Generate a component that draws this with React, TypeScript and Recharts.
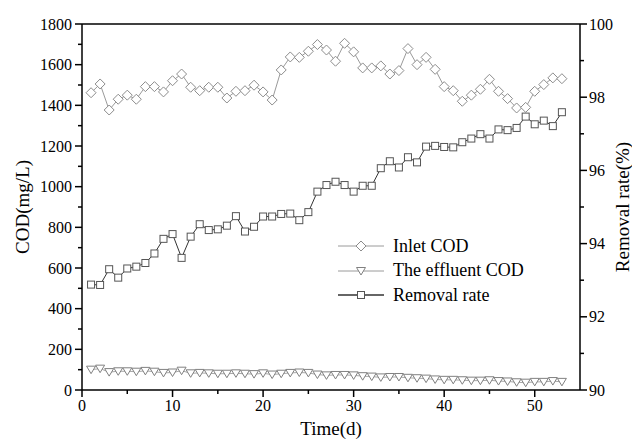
import { LineChart, Line, XAxis, YAxis, Label, ReferenceLine } from "recharts";

const days = [
  1, 2, 3, 4, 5, 6, 7, 8, 9, 10, 11, 12, 13, 14, 15, 16, 17, 18, 19, 20, 21, 22, 23, 24, 25, 26,
  27, 28, 29, 30, 31, 32, 33, 34, 35, 36, 37, 38, 39, 40, 41, 42, 43, 44, 45, 46, 47, 48, 49, 50,
  51, 52, 53,
];

const inletCod = [
  1462, 1505, 1377, 1430, 1450, 1430, 1492, 1492, 1466, 1521, 1554, 1489, 1472, 1489, 1489, 1436,
  1469, 1472, 1499, 1466, 1426, 1574, 1638, 1636, 1666, 1699, 1672, 1617, 1705, 1663, 1584, 1584,
  1594, 1554, 1571, 1679, 1600, 1636, 1577, 1492, 1472, 1420, 1450, 1479, 1528, 1469, 1433, 1387,
  1390, 1469, 1502, 1535, 1531,
];

const effluentCod = [
  100, 105, 88, 92, 92, 90, 94, 90, 84, 86, 95, 82, 84, 82, 80, 80, 82, 80, 78, 82, 76, 80, 84, 86,
  84, 76, 72, 74, 74, 72, 68, 66, 62, 64, 64, 60, 58, 56, 52, 50, 50, 48, 46, 46, 48, 44, 42, 38,
  36, 40, 40, 44, 40,
];

const removalRate = [
  92.88, 92.87, 93.3, 93.07, 93.32, 93.37, 93.47, 93.73, 94.13, 94.26, 93.61, 94.19, 94.53, 94.37,
  94.39, 94.49, 94.75, 94.33, 94.46, 94.74, 94.74, 94.81, 94.82, 94.64, 94.86, 95.42, 95.6, 95.69,
  95.6, 95.42, 95.58, 95.58, 96.06, 96.25, 96.08, 96.36, 96.22, 96.65, 96.67, 96.64, 96.63, 96.77,
  96.87, 96.99, 96.87, 97.12, 97.1, 97.16, 97.47, 97.26, 97.36, 97.21, 97.59,
];

const seriesNames = ["Inlet COD", "The effluent COD", "Removal rate"];
const xTicks = [0, 5, 10, 15, 20, 25, 30, 35, 40, 45, 50];
const codTicks = [0, 100, 200, 300, 400, 500, 600, 700, 800, 900, 1000, 1100, 1200, 1300, 1400, 1500, 1600, 1700, 1800];
const rateTicks = [90, 91, 92, 93, 94, 95, 96, 97, 98, 99, 100];

const data = days.map((d, i) => ({
  day: d,
  inlet: inletCod[i],
  effluent: effluentCod[i],
  rate: removalRate[i],
}));

const FONT = "'Liberation Serif', 'Times New Roman', serif";

const Diamond = ({ cx, cy }: any) => (
  <path d={`M${cx},${cy - 5}L${cx + 5},${cy}L${cx},${cy + 5}L${cx - 5},${cy}Z`} fill="#fff" stroke="#8c8c8c" strokeWidth={1} />
);
const Triangle = ({ cx, cy }: any) => (
  <path d={`M${cx - 4.5},${cy - 3.5}L${cx + 4.5},${cy - 3.5}L${cx},${cy + 4}Z`} fill="#fff" stroke="#808080" strokeWidth={1} />
);
const Square = ({ cx, cy }: any) => (
  <rect x={cx - 3.5} y={cy - 3.5} width={7} height={7} fill="#fff" stroke="#555" strokeWidth={1} />
);

const XTick = ({ x, y, payload }: any) => {
  const major = payload.value % 10 === 0;
  return (
    <g>
      <line x1={x} x2={x} y1={y} y2={y + (major ? 7 : 4)} stroke="#000" strokeWidth={1.5} />
      {major && (
        <text x={x} y={y + 21} textAnchor="middle" fontSize={16} fontFamily={FONT} fill="#000">
          {payload.value}
        </text>
      )}
    </g>
  );
};

const LeftTick = ({ x, y, payload }: any) => {
  const major = payload.value % 200 === 0;
  return (
    <g>
      <line x1={x} x2={x - (major ? 7 : 4)} y1={y} y2={y} stroke="#000" strokeWidth={1.5} />
      {major && (
        <text x={x - 10} y={y} dy="0.35em" textAnchor="end" fontSize={16} fontFamily={FONT} fill="#000">
          {payload.value}
        </text>
      )}
    </g>
  );
};

const RightTick = ({ x, y, payload }: any) => {
  const major = payload.value % 2 === 0;
  return (
    <g>
      <line x1={x} x2={x + (major ? 7 : 4)} y1={y} y2={y} stroke="#000" strokeWidth={1.5} />
      {major && (
        <text x={x + 9} y={y} dy="0.35em" textAnchor="start" fontSize={16} fontFamily={FONT} fill="#000">
          {payload.value}
        </text>
      )}
    </g>
  );
};

const legendMarkers = [
  { marker: <Diamond cx={23} cy={10} />, stroke: "#9a9a9a", width: 1 },
  { marker: <Triangle cx={23} cy={10} />, stroke: "#9a9a9a", width: 1 },
  { marker: <Square cx={23} cy={10} />, stroke: "#333", width: 1.5 },
];

export default function App() {
  return (
    <div style={{ position: "absolute", left: 0, top: 0, width: 632, height: 441, background: "#fff", overflow: "hidden" }}>
      <LineChart width={632} height={441} data={data} margin={{ top: 24, right: 0, bottom: 0, left: 0 }}>
        <XAxis
          dataKey="day"
          type="number"
          domain={[0, 55]}
          ticks={xTicks}
          interval={0}
          height={51}
          tickSize={0}
          tickMargin={0}
          tickLine={false}
          tick={(p: any) => <XTick {...p} />}
          axisLine={{ stroke: "#000", strokeWidth: 1.5 }}
        >
          <Label value="Time(d)" position="insideBottom" offset={6} style={{ fontFamily: FONT, fontSize: 19, fill: "#000" }} />
        </XAxis>
        <YAxis
          yAxisId="left"
          width={82}
          domain={[0, 1800]}
          ticks={codTicks}
          interval={0}
          tickSize={0}
          tickMargin={0}
          tickLine={false}
          tick={(p: any) => <LeftTick {...p} />}
          axisLine={{ stroke: "#000", strokeWidth: 1.5 }}
        >
          <Label
            value="COD(mg/L)"
            angle={-90}
            position="insideLeft"
            offset={22}
            style={{ fontFamily: FONT, fontSize: 19, fill: "#000", textAnchor: "middle" }}
          />
        </YAxis>
        <YAxis
          yAxisId="right"
          orientation="right"
          width={52}
          domain={[90, 100]}
          ticks={rateTicks}
          interval={0}
          tickSize={0}
          tickMargin={0}
          tickLine={false}
          tick={(p: any) => <RightTick {...p} />}
          axisLine={{ stroke: "#000", strokeWidth: 1.5 }}
        >
          <Label
            value="Removal rate(%)"
            angle={-90}
            position="insideRight"
            offset={10}
            style={{ fontFamily: FONT, fontSize: 19, fill: "#000", textAnchor: "middle" }}
          />
        </YAxis>
        <ReferenceLine yAxisId="left" y={1800} stroke="#000" strokeWidth={1.5} />
        <Line
          yAxisId="left"
          dataKey="inlet"
          name={seriesNames[0]}
          stroke="#9a9a9a"
          strokeWidth={1}
          isAnimationActive={false}
          activeDot={false}
          dot={(p: any) => <Diamond key={`i${p.index}`} cx={p.cx} cy={p.cy} />}
        />
        <Line
          yAxisId="left"
          dataKey="effluent"
          name={seriesNames[1]}
          stroke="#a8a8a8"
          strokeWidth={1}
          isAnimationActive={false}
          activeDot={false}
          dot={(p: any) => <Triangle key={`e${p.index}`} cx={p.cx} cy={p.cy} />}
        />
        <Line
          yAxisId="right"
          dataKey="rate"
          name={seriesNames[2]}
          stroke="#333"
          strokeWidth={1}
          isAnimationActive={false}
          activeDot={false}
          dot={(p: any) => <Square key={`r${p.index}`} cx={p.cx} cy={p.cy} />}
        />
      </LineChart>
      <div style={{ position: "absolute", left: 338, top: 234, fontFamily: FONT, fontSize: 18, color: "#000" }}>
        {seriesNames.map((name, i) => (
          <div key={name} style={{ display: "flex", alignItems: "center", height: 24.5 }}>
            <svg width={55} height={20} style={{ display: "block" }}>
              <line x1={0} x2={46} y1={10} y2={10} stroke={legendMarkers[i].stroke} strokeWidth={legendMarkers[i].width} />
              {legendMarkers[i].marker}
            </svg>
            <span style={{ whiteSpace: "nowrap" }}>{name}</span>
          </div>
        ))}
      </div>
    </div>
  );
}
